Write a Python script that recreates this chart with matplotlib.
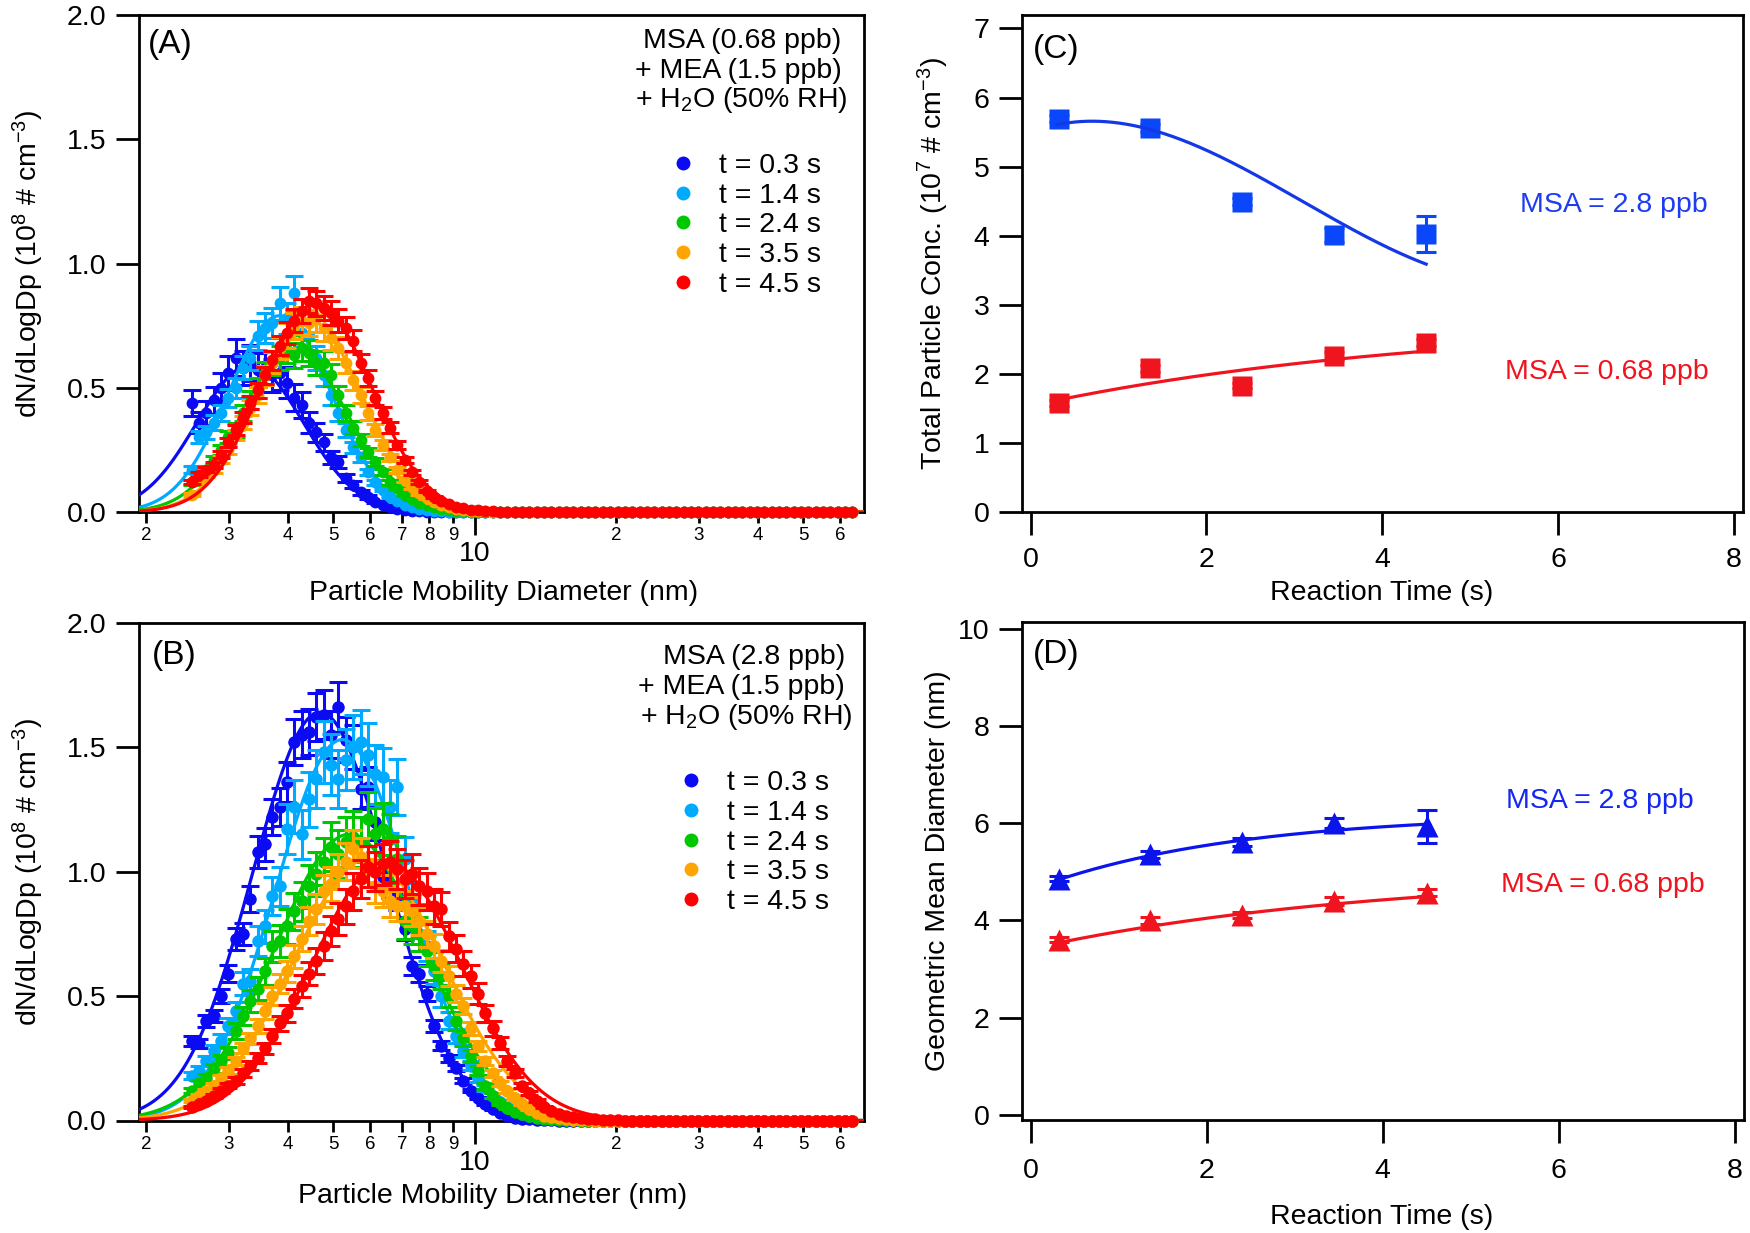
import numpy as np
import matplotlib
matplotlib.use('Agg')
import matplotlib.pyplot as plt
from matplotlib.ticker import FixedLocator, FixedFormatter
from matplotlib.lines import Line2D

plt.rcParams['font.family'] = ['Liberation Sans', 'DejaVu Sans']
plt.rcParams['mathtext.fontset'] = 'custom'
plt.rcParams['mathtext.rm'] = 'Liberation Sans'
plt.rcParams['mathtext.it'] = 'Liberation Sans:italic'
plt.rcParams['mathtext.bf'] = 'Liberation Sans:bold'

# ---------------- data ----------------
N_CH = 91
dp_nm = 2.5 * 10 ** (np.arange(N_CH) / 64.0)   # SMPS channels, 64 per decade

time_labels = ['t = 0.3 s', 't = 1.4 s', 't = 2.4 s', 't = 3.5 s', 't = 4.5 s']
psd_colors = ['#0A0AF5', '#00AAFF', '#00C800', '#FFA500', '#FF0000']

# Panel A: MSA 0.68 ppb (values in 1e8 # cm-3), beyond listed channels = 0
A_t03 = [0.44, 0.36, 0.40, 0.45, 0.50, 0.56, 0.62, 0.58, 0.60, 0.57, 0.58, 0.55, 0.56, 0.52, 0.46, 0.43,
         0.36, 0.32, 0.28, 0.22, 0.20, 0.135, 0.11, 0.08, 0.06, 0.04, 0.03, 0.02, 0.014, 0.009, 0.006,
         0.004, 0.002, 0.001]
A_t14 = [0.17, 0.30, 0.32, 0.36, 0.40, 0.46, 0.50, 0.58, 0.62, 0.71, 0.74, 0.76, 0.84, 0.78, 0.88, 0.72,
         0.71, 0.62, 0.55, 0.47, 0.40, 0.33, 0.26, 0.22, 0.16, 0.12, 0.09, 0.06, 0.045, 0.03, 0.02, 0.013,
         0.009, 0.006, 0.004, 0.002, 0.001]
A_t24 = [0.12, 0.15, 0.17, 0.21, 0.25, 0.30, 0.33, 0.40, 0.45, 0.50, 0.56, 0.60, 0.62, 0.65, 0.63, 0.66,
         0.64, 0.60, 0.60, 0.55, 0.47, 0.40, 0.34, 0.29, 0.24, 0.20, 0.16, 0.12, 0.095, 0.07, 0.052, 0.038,
         0.027, 0.019, 0.013, 0.009, 0.006, 0.004, 0.002, 0.001]
A_t35 = [0.07, 0.13, 0.15, 0.17, 0.21, 0.25, 0.31, 0.36, 0.42, 0.47, 0.55, 0.60, 0.66, 0.71, 0.75, 0.77,
         0.76, 0.78, 0.74, 0.70, 0.66, 0.60, 0.53, 0.47, 0.40, 0.33, 0.27, 0.22, 0.17, 0.13, 0.10, 0.075,
         0.055, 0.04, 0.028, 0.019, 0.013, 0.009, 0.006, 0.004, 0.0025, 0.0015, 0.001]
A_t45 = [0.12, 0.15, 0.17, 0.19, 0.23, 0.28, 0.33, 0.38, 0.44, 0.49, 0.55, 0.61, 0.67, 0.72, 0.77, 0.81,
         0.85, 0.84, 0.82, 0.80, 0.77, 0.74, 0.69, 0.60, 0.54, 0.46, 0.40, 0.34, 0.27, 0.21, 0.16, 0.12,
         0.085, 0.06, 0.044, 0.031, 0.022, 0.015, 0.010, 0.007, 0.004, 0.003, 0.002, 0.001]

# Panel B: MSA 2.8 ppb
B_t03 = [0.32, 0.31, 0.40, 0.42, 0.50, 0.59, 0.73, 0.75, 0.89, 1.08, 1.11, 1.22, 1.26, 1.36, 1.52, 1.55,
         1.56, 1.62, 1.63, 1.55, 1.66, 1.53, 1.50, 1.33, 1.34, 1.20, 0.98, 0.95, 0.90, 0.77, 0.62, 0.59,
         0.51, 0.38, 0.30, 0.25, 0.21, 0.16, 0.12, 0.09, 0.065, 0.045, 0.03, 0.018, 0.012, 0.008, 0.005,
         0.003, 0.002, 0.001]
B_t14 = [0.18, 0.20, 0.24, 0.28, 0.32, 0.38, 0.44, 0.55, 0.56, 0.72, 0.78, 0.90, 0.94, 1.17, 1.26, 1.15,
         1.29, 1.37, 1.48, 1.43, 1.37, 1.45, 1.50, 1.52, 1.47, 1.39, 1.38, 1.26, 1.34, 1.05, 0.88, 0.80,
         0.70, 0.60, 0.50, 0.40, 0.34, 0.28, 0.22, 0.17, 0.13, 0.10, 0.075, 0.055, 0.04, 0.028, 0.02,
         0.014, 0.01, 0.007, 0.005, 0.003, 0.002, 0.001]
B_t24 = [0.12, 0.15, 0.17, 0.21, 0.24, 0.27, 0.36, 0.42, 0.48, 0.53, 0.60, 0.70, 0.72, 0.78, 0.84, 0.88,
         0.94, 0.99, 1.04, 1.10, 1.07, 1.12, 1.14, 1.12, 1.21, 1.15, 1.17, 1.13, 1.05, 0.80, 0.78, 0.75,
         0.68, 0.62, 0.58, 0.50, 0.40, 0.33, 0.26, 0.20, 0.14, 0.10, 0.07, 0.05, 0.035, 0.025, 0.017,
         0.012, 0.008, 0.005, 0.003, 0.002, 0.001]
B_t35 = [0.08, 0.10, 0.12, 0.14, 0.17, 0.20, 0.24, 0.29, 0.33, 0.38, 0.44, 0.50, 0.55, 0.60, 0.66, 0.73,
         0.80, 0.85, 0.92, 0.95, 1.00, 1.04, 1.09, 1.06, 1.03, 0.94, 0.92, 0.88, 0.86, 0.86, 0.84, 0.80,
         0.75, 0.70, 0.64, 0.58, 0.51, 0.46, 0.37, 0.30, 0.24, 0.19, 0.15, 0.12, 0.09, 0.065, 0.045,
         0.03, 0.02, 0.014, 0.009, 0.006, 0.004, 0.002, 0.001]
B_t45 = [0.055, 0.065, 0.08, 0.10, 0.12, 0.14, 0.16, 0.19, 0.22, 0.25, 0.29, 0.34, 0.39, 0.43, 0.49, 0.54,
         0.59, 0.64, 0.70, 0.76, 0.81, 0.86, 0.92, 0.97, 1.02, 1.00, 1.03, 1.04, 1.01, 0.97, 0.99, 0.94,
         0.92, 0.86, 0.85, 0.74, 0.69, 0.63, 0.58, 0.51, 0.43, 0.37, 0.31, 0.24, 0.19, 0.14, 0.11, 0.08,
         0.055, 0.04, 0.028, 0.02, 0.014, 0.01, 0.007, 0.005, 0.003, 0.002, 0.001]

# relative uncertainty of each size distribution
A_relerr = [0.12, 0.08, 0.08, 0.07, 0.06]
B_relerr = [0.06, 0.085, 0.09, 0.07, 0.08]

# lognormal fits: peak height, geometric mean diameter (nm), geometric std
A_fit_amp = [0.59, 0.79, 0.65, 0.77, 0.84]
A_fit_dg = [3.33, 3.85, 4.14, 4.45, 4.61]
A_fit_sg = [1.300, 1.286, 1.296, 1.298, 1.305]
B_fit_amp = [1.64, 1.53, 1.15, 1.05, 1.04]
B_fit_dg = [4.69, 5.23, 5.42, 5.93, 6.49]
B_fit_sg = [1.391, 1.387, 1.439, 1.446, 1.439]

# Panels C and D
reaction_time = [0.32, 1.36, 2.40, 3.45, 4.50]
conc_28 = [5.69, 5.56, 4.49, 4.01, 4.02]
conc_28_err = [0.05, 0.06, 0.05, 0.10, 0.26]
conc_068 = [1.58, 2.08, 1.83, 2.26, 2.45]
conc_068_err = [0.04, 0.05, 0.04, 0.06, 0.05]
gmd_28 = [4.86, 5.36, 5.61, 6.00, 5.94]
gmd_28_err = [0.05, 0.07, 0.08, 0.10, 0.34]
gmd_068 = [3.60, 4.00, 4.11, 4.40, 4.57]
gmd_068_err = [0.05, 0.07, 0.07, 0.08, 0.07]

conc_28_fit_poly = [0.04214, -0.3919, 0.4867, 5.494]      # cubic
conc_068_fit = (2.8, 1.262, 0.219)                         # a - b*exp(-k t)
gmd_28_fit = (6.2, 1.566, 0.437)
gmd_068_fit = (5.0, 1.582, 0.252)
fit_t_range = (0.3, 4.5)

BLUE_C = '#0A46FA'
BLUE_C_LINE = '#1438E6'
BLUE_D = '#0A14EB'
RED_CD = '#F0141E'

FS = 20.5
FS_PANEL = 24

def pad(v):
    return np.array(v + [0.0] * (N_CH - len(v)))

A_series = [pad(v) for v in (A_t03, A_t14, A_t24, A_t35, A_t45)]
B_series = [pad(v) for v in (B_t03, B_t14, B_t24, B_t35, B_t45)]

fig = plt.figure(figsize=(17.5, 12.33), dpi=100)
W, H = 1750.0, 1233.0

def add_ax(l, r, t, b):
    return fig.add_axes([l / W, 1 - b / H, (r - l) / W, (b - t) / H])

axA = add_ax(139, 864, 15, 512)
axB = add_ax(139, 864, 622.6, 1120.5)
axC = add_ax(1022, 1743, 15.3, 512)
axD = add_ax(1022, 1744, 622.2, 1120)

def style(ax):
    for s in ax.spines.values():
        s.set_linewidth(2.0)
    ax.tick_params(which='major', direction='out', length=16.5, width=2.0, labelsize=FS, pad=7)

def draw_psd(ax, series, relerr, amps, dgs, sgs, ms):
    xf = np.logspace(np.log10(1.9), np.log10(70), 800)
    for k in range(5):
        y = series[k]
        m = y > 0
        ax.errorbar(dp_nm[m], y[m], yerr=np.array(relerr[k]) * y[m], fmt='none', ecolor=psd_colors[k],
                    elinewidth=2.2, capsize=6.6, capthick=2.2, zorder=2 + 3 * k, clip_on=False)
        ax.plot(dp_nm, y, 'o', color=psd_colors[k], ms=ms, mec='none', zorder=3 + 3 * k, clip_on=False)
        yf = amps[k] * np.exp(-np.log10(xf / dgs[k]) ** 2 / (2 * np.log10(sgs[k]) ** 2))
        ax.plot(xf, yf, '-', color=psd_colors[k], lw=2.3, zorder=4 + 3 * k)
    ax.set_xscale('log')
    ax.set_xlim(1.932, 67.4)
    ax.set_ylim(0, 2.0)
    style(ax)
    ax.set_yticks([0, 0.5, 1.0, 1.5, 2.0])
    ax.set_yticklabels(['0.0', '0.5', '1.0', '1.5', '2.0'])
    ax.xaxis.set_major_locator(FixedLocator([10]))
    ax.xaxis.set_major_formatter(FixedFormatter(['10']))
    minors = [2, 3, 4, 5, 6, 7, 8, 9, 20, 30, 40, 50, 60]
    ax.xaxis.set_minor_locator(FixedLocator(minors))
    ax.xaxis.set_minor_formatter(FixedFormatter([str(v if v < 10 else v // 10) for v in minors]))
    ax.tick_params(axis='x', which='major', length=16.5, width=2.0, labelsize=FS, pad=4.5)
    ax.tick_params(axis='x', which='minor', direction='out', length=8, width=2.0, labelsize=13.5, pad=3)
    ax.set_ylabel('dN/dLogDp (10$^{8}$ # cm$^{-3}$)', fontsize=FS)
    ax.yaxis.set_label_coords(-0.128, 0.5)
    ax.set_xlabel('Particle Mobility Diameter (nm)', fontsize=FS)

def psd_legend(ax, x, y):
    handles = [Line2D([], [], ls='none', marker='o', ms=10, color=c, mec='none') for c in psd_colors]
    ax.legend(handles, time_labels, loc='center left', bbox_to_anchor=(x, y), frameon=False,
              handlelength=1.0, handletextpad=0.77, labelspacing=0.13, borderpad=0, borderaxespad=0,
              fontsize=FS)

# Panel A
draw_psd(axA, A_series, A_relerr, A_fit_amp, A_fit_dg, A_fit_sg, 8.5)
axA.xaxis.set_label_coords(0.5025, -0.1368)
axA.text(0.0124, 0.9243, '(A)', transform=axA.transAxes, fontsize=FS_PANEL, ha='left', va='baseline')
axA.text(0.9692, 0.933, 'MSA (0.68 ppb)', transform=axA.transAxes, fontsize=FS, ha='right', va='baseline')
axA.text(0.9692, 0.8726, '+ MEA (1.5 ppb)', transform=axA.transAxes, fontsize=FS, ha='right', va='baseline')
axA.text(0.9779, 0.8155, '+ H$_{2}$O (50% RH)', transform=axA.transAxes, fontsize=FS, ha='right', va='baseline')
psd_legend(axA, 0.7308, 0.577)

# Panel B
draw_psd(axB, B_series, B_relerr, B_fit_amp, B_fit_dg, B_fit_sg, 9.0)
axB.xaxis.set_label_coords(0.488, -0.1255)
axB.text(0.018, 0.9168, '(B)', transform=axB.transAxes, fontsize=FS_PANEL, ha='left', va='baseline')
axB.text(0.974, 0.9168, 'MSA (2.8 ppb)', transform=axB.transAxes, fontsize=FS, ha='right', va='baseline')
axB.text(0.974, 0.8568, '+ MEA (1.5 ppb)', transform=axB.transAxes, fontsize=FS, ha='right', va='baseline')
axB.text(0.984, 0.797, '+ H$_{2}$O (50% RH)', transform=axB.transAxes, fontsize=FS, ha='right', va='baseline')
psd_legend(axB, 0.742, 0.558)

tf = np.linspace(fit_t_range[0], fit_t_range[1], 300)

def expfit(p, t):
    return p[0] - p[1] * np.exp(-p[2] * t)

# Panel C
axC.errorbar(reaction_time, conc_28, yerr=conc_28_err, fmt='s', color=BLUE_C, ms=14, mec='none',
             elinewidth=2.2, capsize=7.3, capthick=2.2, zorder=3)
axC.plot(tf, np.polyval(conc_28_fit_poly, tf), '-', color=BLUE_C_LINE, lw=2.3, zorder=4)
axC.errorbar(reaction_time, conc_068, yerr=conc_068_err, fmt='s', color=RED_CD, ms=14, mec='none',
             elinewidth=2.2, capsize=7.3, capthick=2.2, zorder=3)
axC.plot(tf, expfit(conc_068_fit, tf), '-', color=RED_CD, lw=2.3, zorder=4)
axC.set_xlim(-0.098, 8.105)
axC.set_ylim(0, 7.19)
style(axC)
axC.set_xticks([0, 2, 4, 6, 8])
axC.set_yticks(range(8))
axC.tick_params(axis='x', pad=9)
axC.set_xlabel('Reaction Time (s)', fontsize=FS)
axC.xaxis.set_label_coords(0.4987, -0.1365)
axC.set_ylabel('Total Particle Conc. (10$^{7}$ # cm$^{-3}$)', fontsize=FS)
axC.yaxis.set_label_coords(-0.0985, 0.5)
axC.text(0.015, 0.915, '(C)', transform=axC.transAxes, fontsize=FS_PANEL, ha='left', va='baseline')
axC.text(0.951, 0.603, 'MSA = 2.8 ppb', transform=axC.transAxes, fontsize=FS, ha='right', va='baseline',
         color='#1E3CF0')
axC.text(0.9524, 0.268, 'MSA = 0.68 ppb', transform=axC.transAxes, fontsize=FS, ha='right', va='baseline',
         color=RED_CD)

# Panel D
axD.errorbar(reaction_time, gmd_28, yerr=gmd_28_err, fmt='^', color=BLUE_D, ms=15.5, mec='none',
             elinewidth=2.2, capsize=7.3, capthick=2.2, zorder=3)
axD.plot(tf, expfit(gmd_28_fit, tf), '-', color=BLUE_D, lw=2.3, zorder=4)
axD.errorbar(reaction_time, gmd_068, yerr=gmd_068_err, fmt='^', color=RED_CD, ms=15.5, mec='none',
             elinewidth=2.2, capsize=7.3, capthick=2.2, zorder=3)
axD.plot(tf, expfit(gmd_068_fit, tf), '-', color=RED_CD, lw=2.3, zorder=4)
axD.set_xlim(-0.098, 8.105)
axD.set_ylim(-0.11, 10.14)
style(axD)
axD.set_xticks([0, 2, 4, 6, 8])
axD.set_yticks(range(0, 11, 2))
axD.tick_params(axis='x', pad=11)
axD.set_xlabel('Reaction Time (s)', fontsize=FS)
axD.xaxis.set_label_coords(0.4986, -0.168)
axD.set_ylabel('Geometric Mean Diameter (nm)', fontsize=FS)
axD.yaxis.set_label_coords(-0.0983, 0.5)
axD.text(0.015, 0.919, '(D)', transform=axD.transAxes, fontsize=FS_PANEL, ha='left', va='baseline')
axD.text(0.9307, 0.627, 'MSA = 2.8 ppb', transform=axD.transAxes, fontsize=FS, ha='right', va='baseline',
         color='#1428F0')
axD.text(0.9458, 0.459, 'MSA = 0.68 ppb', transform=axD.transAxes, fontsize=FS, ha='right', va='baseline',
         color=RED_CD)

fig.savefig('out.png', dpi=100)
